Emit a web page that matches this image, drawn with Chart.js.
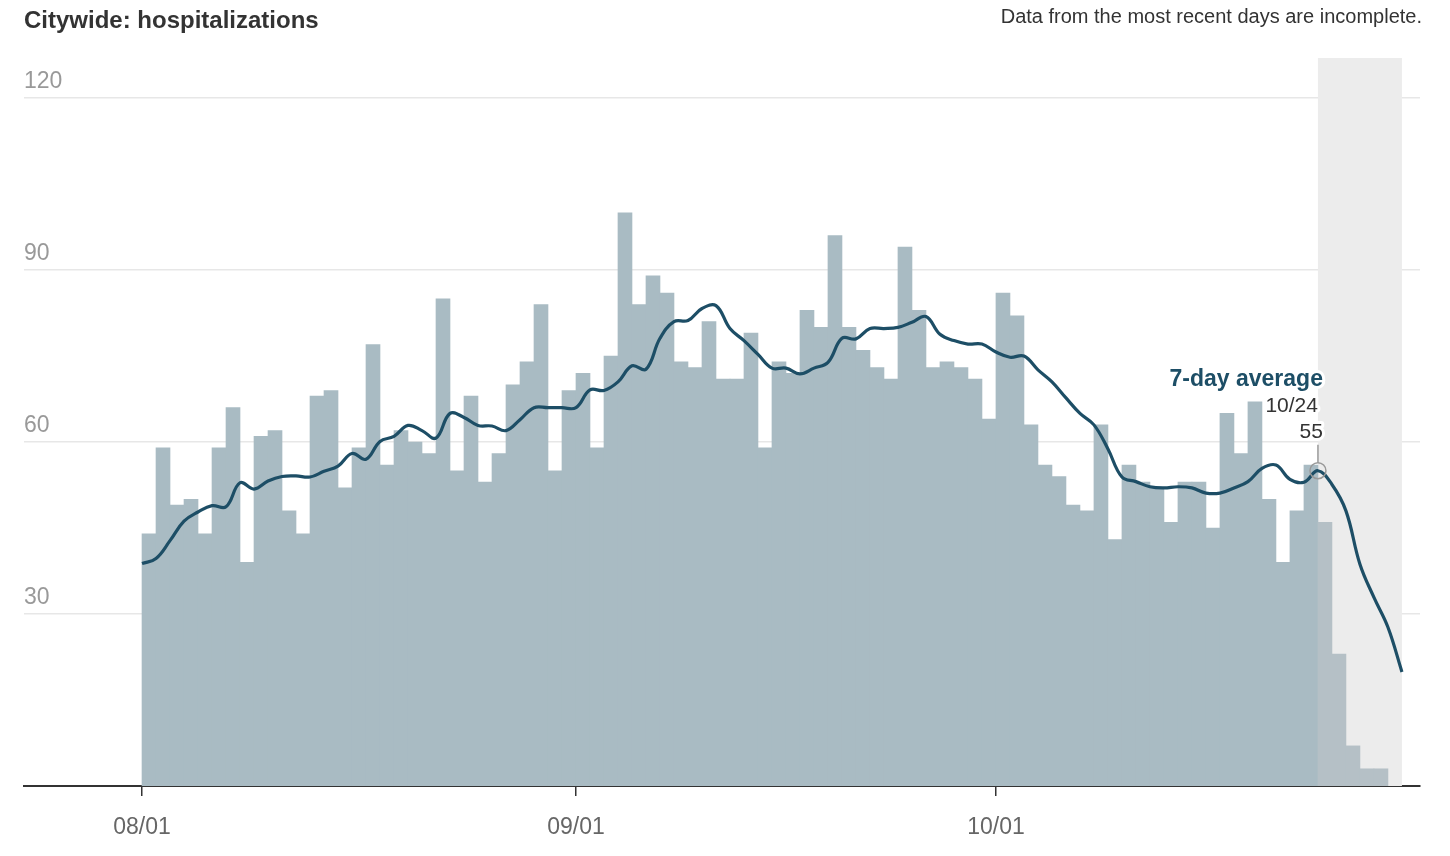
<!DOCTYPE html>
<html>
<head>
<meta charset="utf-8">
<title>Citywide: hospitalizations</title>
<script src="https://cdn.jsdelivr.net/npm/chart.js@4.4.1/dist/chart.umd.min.js"></script>
<style>
  body { margin: 0; background: #fff; font-family: "Liberation Sans", Arial, sans-serif; }
  #wrap { position: relative; width: 1450px; height: 856px; }
  #title { position: absolute; left: 24px; top: 6px; font-size: 24px; font-weight: bold; color: #333; }
  #note { position: absolute; right: 28px; top: 5px; font-size: 20px; color: #333; }
  canvas { position: absolute; left: 0; top: 0; }
</style>
</head>
<body>
<div id="wrap">
  <canvas id="chart" width="1450" height="856"></canvas>
  <div id="title">Citywide: hospitalizations</div>
  <div id="note">Data from the most recent days are incomplete.</div>
</div>
<script>
// daily hospitalizations, one bar per day starting 08/01
const dailyCounts = [
  44, 59, 49, 50, 44, 59, 66, 39, 61, 62, 48, 44, 68, 69, 52, 59, 77, 56, 62, 60,
  58, 85, 55, 68, 53, 58, 70, 74, 84, 55, 69, 72, 59, 75, 100, 84, 89, 86, 74, 73,
  81, 71, 71, 79, 59, 74, 72, 83, 80, 96, 80, 76, 73, 71, 94, 83, 73, 74, 73, 71,
  64, 86, 82, 63, 56, 54, 49, 48, 63, 43, 56, 53, 52, 46, 53, 53, 45, 65, 58, 67,
  50, 39, 48, 56, 46, 23, 7, 3, 3
];

// 7-day average, one point per day starting 08/01
const sevenDayAvg = [
  38.8, 39.7, 42.8, 46.2, 47.8, 48.9, 48.7, 52.9, 51.8, 53.2, 54.0, 54.1, 53.9, 54.9, 55.8, 58.0,
  57.0, 60.1, 61.0, 62.9, 62.0, 60.7, 65.0, 64.3, 62.9, 62.8, 62.0, 63.9, 66.0, 66.0, 66.0, 66.0,
  69.1, 69.0, 70.5, 73.3, 72.7, 78.1, 81.0, 81.2, 83.3, 83.8, 79.8, 77.7, 75.3, 72.9, 72.9, 71.9,
  72.9, 73.9, 78.1, 78.0, 79.8, 79.8, 80.0, 80.9, 81.9, 78.8, 77.7, 77.1, 77.1, 75.7, 74.8, 75.0,
  72.6, 70.5, 67.7, 65.0, 63.0, 58.8, 53.9, 53.1, 52.2, 52.0, 52.2, 52.0, 51.1, 51.1, 52.0, 53.1,
  55.4, 56.0, 53.5, 53.0, 55.0, 52.6, 48.0, 38.7, 32.9, 27.7, 19.9
];

// x ticks: day offset from 08/01 and label
const tickDays = [0, 31, 61];
const tickLabels = ['08/01', '09/01', '10/01'];
const yTicks = [30, 60, 90, 120];

// days from here on are incomplete
const incompleteStart = 84;
const incompleteEnd = 90;

// highlighted point
const markDay = 84;
const markLabel = '10/24';
const markValue = 55;

const barColor = '#a9bbc3';
const barColorIncomplete = '#b5c0c6';
const lineColor = '#1d4e66';

const incompletePlugin = {
  id: 'incomplete',
  beforeDatasetsDraw(chart) {
    const { ctx, chartArea, scales } = chart;
    const x1 = scales.x.getPixelForValue(incompleteStart);
    const x2 = scales.x.getPixelForValue(incompleteEnd);
    ctx.save();
    ctx.fillStyle = '#ececec';
    ctx.fillRect(x1, chartArea.top, x2 - x1, chartArea.bottom - chartArea.top);
    ctx.restore();
  }
};

function haloText(ctx, text, x, y) {
  ctx.strokeText(text, x, y);
  ctx.fillText(text, x, y);
}

const markPlugin = {
  id: 'mark',
  afterDraw(chart) {
    const { ctx, scales } = chart;
    const x = scales.x.getPixelForValue(markDay);
    const y = scales.y.getPixelForValue(sevenDayAvg[markDay]);
    ctx.save();
    // little stem and circle
    ctx.strokeStyle = '#999';
    ctx.lineWidth = 1.5;
    ctx.beginPath();
    ctx.moveTo(x, y - 26);
    ctx.lineTo(x, y - 8);
    ctx.stroke();
    ctx.beginPath();
    ctx.arc(x, y, 8, 0, Math.PI * 2);
    ctx.stroke();

    ctx.textAlign = 'right';
    ctx.textBaseline = 'middle';
    ctx.strokeStyle = '#fff';
    ctx.lineWidth = 6;
    ctx.lineJoin = 'round';

    ctx.font = 'bold 23px "Liberation Sans", Arial, sans-serif';
    ctx.fillStyle = lineColor;
    haloText(ctx, '7-day average', x + 5, y - 91);

    ctx.font = '21px "Liberation Sans", Arial, sans-serif';
    ctx.fillStyle = '#333';
    haloText(ctx, markLabel, x, y - 65);
    haloText(ctx, String(markValue), x + 5, y - 39);
    ctx.restore();
  }
};

const ctx = document.getElementById('chart').getContext('2d');

new Chart(ctx, {
  type: 'bar',
  data: {
    datasets: [
      {
        type: 'line',
        data: sevenDayAvg.map((v, i) => ({ x: i, y: v })),
        borderColor: lineColor,
        borderWidth: 3.2,
        pointRadius: 0,
        tension: 0.4,
        order: 0
      },
      {
        type: 'bar',
        data: dailyCounts.map((v, i) => ({ x: i + 0.5, y: v })),
        backgroundColor: c => c.dataIndex >= incompleteStart ? barColorIncomplete : barColor,
        borderWidth: 0,
        barPercentage: 1,
        categoryPercentage: 1,
        order: 1
      }
    ]
  },
  options: {
    responsive: false,
    animation: false,
    devicePixelRatio: 1,
    layout: { padding: { left: 24, right: 30, top: 58, bottom: 0 } },
    plugins: {
      legend: { display: false },
      tooltip: { enabled: false }
    },
    scales: {
      x: {
        type: 'linear',
        min: -8.43,
        max: 91.29,
        offset: false,
        afterBuildTicks: axis => { axis.ticks = tickDays.map(d => ({ value: d })); },
        afterFit: axis => { axis.height = 70; },
        ticks: {
          callback: v => tickLabels[tickDays.indexOf(v)],
          font: { size: 23, family: '"Liberation Sans", Arial, sans-serif' },
          color: '#666',
          padding: 18,
          maxRotation: 0,
          autoSkip: false
        },
        grid: { offset: false, drawOnChartArea: false, drawTicks: true, tickLength: 10, color: '#333', lineWidth: 1.5 },
        border: { display: true, color: '#333', width: 2 }
      },
      y: {
        min: 0,
        max: 127,
        z: 1,
        afterBuildTicks: axis => { axis.ticks = yTicks.map(v => ({ value: v })); },
        ticks: {
          mirror: true,
          padding: 0,
          labelOffset: -16,
          font: { size: 23, family: '"Liberation Sans", Arial, sans-serif' },
          color: '#999'
        },
        grid: { drawTicks: false, color: 'rgba(40,40,40,0.11)', lineWidth: 1.5 },
        border: { display: false }
      }
    }
  },
  plugins: [incompletePlugin, markPlugin]
});
</script>
</body>
</html>
